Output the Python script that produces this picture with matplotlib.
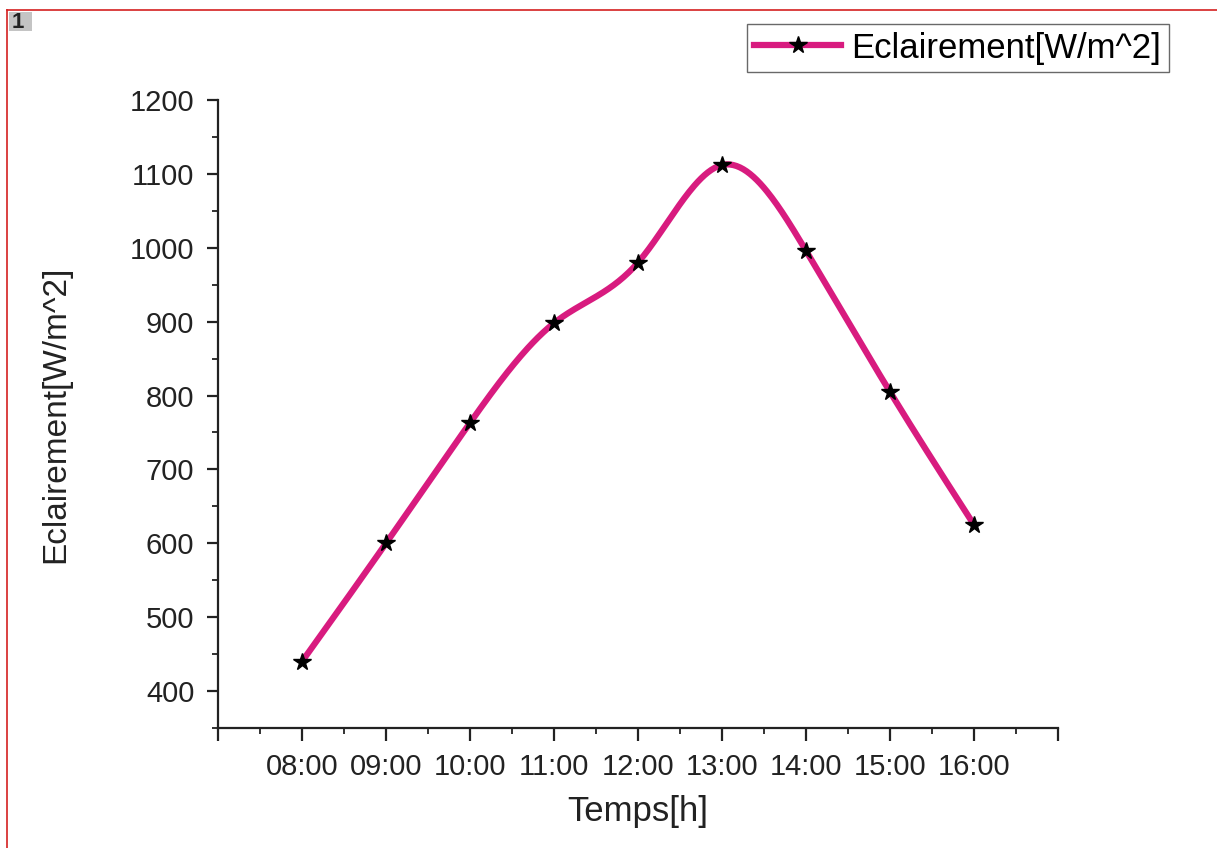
import numpy as np
import matplotlib.pyplot as plt
from matplotlib.ticker import MultipleLocator
from matplotlib.lines import Line2D
from matplotlib.patches import Rectangle

plt.rcParams['font.family'] = ['Liberation Sans', 'DejaVu Sans']

hours = [8, 9, 10, 11, 12, 13, 14, 15, 16]
hour_labels = ['08:00', '09:00', '10:00', '11:00', '12:00', '13:00', '14:00', '15:00', '16:00']
eclairement = [440, 600, 763, 898, 980, 1112, 996, 805, 625]


def natural_spline(x, y, n=400):
    # plain natural cubic spline, just for a smooth line like Origin's
    x = np.asarray(x, float)
    y = np.asarray(y, float)
    h = np.diff(x)
    m = len(x)
    A = np.zeros((m, m))
    b = np.zeros(m)
    A[0, 0] = A[-1, -1] = 1
    for i in range(1, m - 1):
        A[i, i - 1] = h[i - 1]
        A[i, i] = 2 * (h[i - 1] + h[i])
        A[i, i + 1] = h[i]
        b[i] = 3 * ((y[i + 1] - y[i]) / h[i] - (y[i] - y[i - 1]) / h[i - 1])
    c = np.linalg.solve(A, b)
    xs = np.linspace(x[0], x[-1], n)
    idx = np.clip(np.searchsorted(x, xs) - 1, 0, m - 2)
    dx = xs - x[idx]
    bb = (y[idx + 1] - y[idx]) / h[idx] - h[idx] * (2 * c[idx] + c[idx + 1]) / 3
    dd = (c[idx + 1] - c[idx]) / (3 * h[idx])
    ys = y[idx] + bb * dx + c[idx] * dx ** 2 + dd * dx ** 3
    return xs, ys


line_col = '#d81b7f'
W, H = 1217, 848

fig = plt.figure(figsize=(W / 100, H / 100), dpi=100)
ax = fig.add_axes([218 / W, 1 - 728 / H, (1058 - 218) / W, (728 - 100) / H])

xs, ys = natural_spline(hours, eclairement)
ax.plot(xs, ys, color=line_col, lw=4.5, solid_capstyle='round', zorder=2)
ax.plot(hours, eclairement, ls='none', marker='*', ms=13, color='black', zorder=3)

ax.set_xlim(7, 17)
ax.set_ylim(350, 1200)
ax.set_xticks([7] + hours + [17])
ax.set_xticklabels([''] + hour_labels + [''])
ax.xaxis.set_minor_locator(MultipleLocator(0.5))
ax.yaxis.set_minor_locator(MultipleLocator(50))
ax.set_yticks(np.arange(400, 1201, 100))

for s in ['top', 'right']:
    ax.spines[s].set_visible(False)
for s in ['left', 'bottom']:
    ax.spines[s].set_linewidth(1.6)
    ax.spines[s].set_color('#222222')
ax.tick_params(which='major', direction='out', length=8, width=1.6, labelsize=21, colors='#222222', pad=9)
ax.tick_params(which='minor', direction='out', length=4, width=1.3, colors='#222222')
ax.tick_params(axis='x', which='major', length=9, pad=9)

ax.set_xlabel('Temps[h]', fontsize=25, labelpad=10, color='#222222')
ax.set_ylabel('Eclairement[W/m^2]', fontsize=24, labelpad=42, color='#222222')

handle = Line2D([], [], color=line_col, lw=4.5, marker='*', ms=13,
                markerfacecolor='black', markeredgecolor='black')
leg = fig.legend([handle], ['Eclairement[W/m^2]'], loc='upper right',
                 bbox_to_anchor=(1169 / W, 1 - 24 / H), fontsize=25,
                 frameon=True, fancybox=False, handlelength=2.5,
                 borderpad=0.22, borderaxespad=0, handletextpad=0.3)
leg.get_frame().set_edgecolor('#444444')
leg.get_frame().set_linewidth(1.0)

# red page border and the little "1" tab in the corner
fig.add_artist(Line2D([7 / W, 1], [1 - 10 / H, 1 - 10 / H], color='#d42020', lw=1.2))
fig.add_artist(Line2D([7 / W, 7 / W], [0, 1 - 10 / H], color='#d42020', lw=1.2))
fig.add_artist(Rectangle((9 / W, 1 - 31 / H), 23 / W, 19 / H, transform=fig.transFigure,
                         facecolor='#c4c4c4', edgecolor='none', zorder=0))
fig.text(12 / W, 1 - 22 / H, '1', fontsize=16, fontweight='bold', va='center', ha='left',
         color='#222222', zorder=5)

fig.savefig('out.png', dpi=100)
